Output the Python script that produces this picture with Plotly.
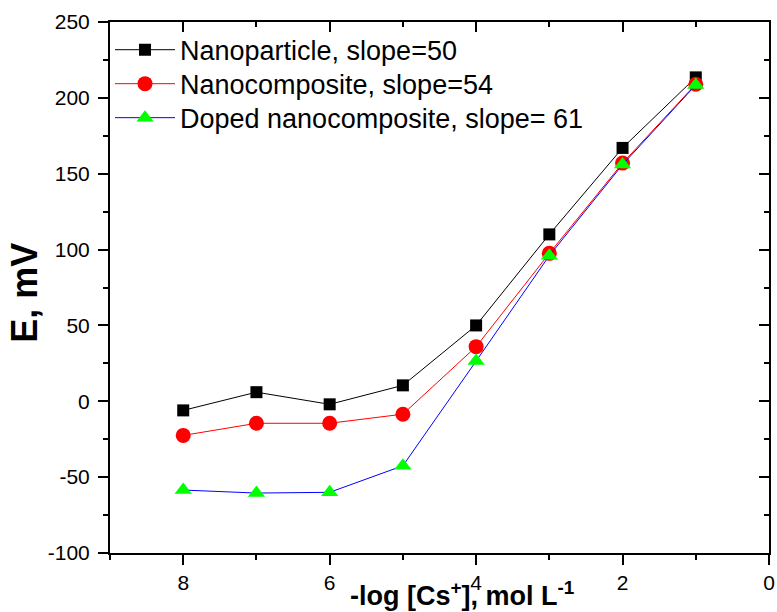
import plotly.graph_objects as go

x_vals = [8, 7, 6, 5, 4, 3, 2, 1]
nanoparticle = [-6, 6, -2, 10.5, 50, 110, 167, 213.5]
nanocomposite = [-22.5, -14.5, -14.5, -8.5, 36, 97.5, 157, 209]
doped = [-58.5, -60.5, -60, -42.5, 26.5, 96, 156, 208.5]

names = ["Nanoparticle, slope=50", "Nanocomposite, slope=54", "Doped nanocomposite, slope= 61"]
x_ticks = [8, 6, 4, 2, 0]
y_ticks = [-100, -50, 0, 50, 100, 150, 200, 250]

FONT = "Liberation Sans, Arial, sans-serif"

fig = go.Figure()
fig.add_trace(go.Scatter(x=x_vals, y=nanoparticle, mode="lines+markers", name=names[0],
                         line=dict(color="black", width=1), legend="legend",
                         marker=dict(symbol="square", size=12, color="black")))
fig.add_trace(go.Scatter(x=x_vals, y=nanocomposite, mode="lines+markers", name=names[1],
                         line=dict(color="red", width=1), legend="legend2",
                         marker=dict(symbol="circle", size=15, color="red")))
fig.add_trace(go.Scatter(x=x_vals, y=doped, mode="lines+markers", name=names[2],
                         line=dict(color="blue", width=1), legend="legend3",
                         marker=dict(symbol="triangle-up", size=15, color="#00ff00")))

common = dict(showgrid=False, zeroline=False, showline=True, linecolor="black", linewidth=2,
              automargin=False)

def leg(ypos):
    return dict(x=0, y=ypos, xanchor="left", yanchor="middle",
                font=dict(size=27, family=FONT), bgcolor="rgba(0,0,0,0)",
                itemwidth=60, borderwidth=0)

fig.update_layout(
    width=777, height=612,
    margin=dict(l=110, r=8, t=22, b=59),
    paper_bgcolor="white", plot_bgcolor="white",
    font=dict(family=FONT, color="black"),
    showlegend=True,
    legend=leg(0.947), legend2=leg(0.883), legend3=leg(0.819),
    xaxis=dict(range=[9, 0], tickvals=x_ticks, ticktext=[str(v) for v in x_ticks],
               ticks="outside", ticklen=10, tickwidth=1.5, tickcolor="black",
               tickfont=dict(size=21, family=FONT),
               minor=dict(dtick=1, ticks="outside", ticklen=5, tickwidth=1.5, tickcolor="black"),
               **common),
    yaxis=dict(range=[-100, 250], tickvals=y_ticks, ticktext=[str(v) for v in y_ticks],
               ticks="outside", ticklen=10, tickwidth=1.5, tickcolor="black",
               tickfont=dict(size=21, family=FONT), ticklabelstandoff=4,
               minor=dict(dtick=25, ticks="outside", ticklen=5, tickwidth=1.5, tickcolor="black"),
               **common),
    xaxis2=dict(range=[9, 0], overlaying="x", side="top", anchor="y",
                tickvals=x_ticks, showticklabels=False,
                ticks="inside", ticklen=10, tickwidth=1.5, tickcolor="black",
                minor=dict(dtick=1, ticks="inside", ticklen=5, tickwidth=1.5, tickcolor="black"),
                **common),
    yaxis2=dict(range=[-100, 250], overlaying="y", side="right", anchor="x",
                tickvals=y_ticks, showticklabels=False,
                ticks="inside", ticklen=10, tickwidth=1.5, tickcolor="black",
                minor=dict(dtick=25, ticks="inside", ticklen=5, tickwidth=1.5, tickcolor="black"),
                **common),
    annotations=[
        dict(text="<b>-log [Cs<sup>+</sup>], mol L<sup>-1</sup></b>",
             xref="paper", yref="paper", x=0.5336, y=-0.077, xanchor="center", yanchor="middle",
             showarrow=False, font=dict(size=27, family=FONT)),
        dict(text="<b>E, mV</b>", textangle=-90,
             xref="paper", yref="paper", x=-0.129, y=0.49, xanchor="center", yanchor="middle",
             showarrow=False, font=dict(size=36, family=FONT)),
    ],
)
fig.add_trace(go.Scatter(x=[], y=[], xaxis="x2", yaxis="y2", showlegend=False, hoverinfo="skip"))

fig.write_html("out.html")
